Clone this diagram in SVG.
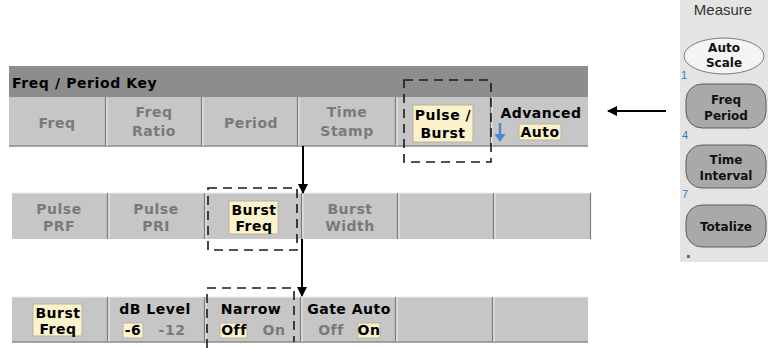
<svg xmlns="http://www.w3.org/2000/svg" width="768" height="348" viewBox="0 0 768 348">
<style>
.face{fill:#c6c6c6}
.sep{stroke:#7c7c7c;stroke-width:1.2}
.hl{stroke:#ececec;stroke-width:1}
.edge{stroke:#8a8a8a;stroke-width:1.5}
.t{font-family:"DejaVu Sans",sans-serif;font-weight:bold;font-size:14px;letter-spacing:0.5px;text-anchor:middle}
.g{fill:#7a7a7a}
.k{fill:#000}
.cream{fill:#fbf2cc;stroke:#b9b39a;stroke-width:1}
.dash{fill:none;stroke:#1a1a1a;stroke-width:1.6;stroke-dasharray:9 6}
.conn{stroke:#000;stroke-width:2;fill:none}
.pb{fill:#a9a9a9;stroke:#5e5e5e;stroke-width:1}
.pt{font-family:"DejaVu Sans",sans-serif;font-weight:bold;font-size:12px;text-anchor:middle;fill:#111}
.num{font-family:"Liberation Sans",sans-serif;font-size:11px;fill:#2c7fbf}
</style>
<defs>
<marker id="ah" markerWidth="10" markerHeight="10" refX="9" refY="5" orient="auto" markerUnits="userSpaceOnUse">
<path d="M0,0 L10,5 L0,10 Z" fill="#000"/>
</marker>
</defs>
<rect width="768" height="348" fill="#fff"/>

<g id="header">
<rect x="9" y="66" width="579" height="31" fill="#8d8d8d"/>
<text x="12" y="88" font-family="DejaVu Sans,sans-serif" font-weight="bold" font-size="14" letter-spacing="0.6" fill="#000">Freq / Period Key</text>
</g>

<g id="row1">
<rect class="face" x="9" y="97" width="579" height="49"/>
<line class="edge" x1="9" y1="146" x2="588" y2="146"/>
<line class="sep" x1="105.5" y1="97" x2="105.5" y2="146"/><line class="hl" x1="107" y1="97" x2="107" y2="146"/>
<line class="sep" x1="201.5" y1="97" x2="201.5" y2="146"/><line class="hl" x1="203" y1="97" x2="203" y2="146"/>
<line class="sep" x1="297.5" y1="97" x2="297.5" y2="146"/><line class="hl" x1="299" y1="97" x2="299" y2="146"/>
<line class="sep" x1="395.5" y1="97" x2="395.5" y2="146"/><line class="hl" x1="397" y1="97" x2="397" y2="146"/>
<line class="sep" x1="490.5" y1="97" x2="490.5" y2="146"/><line class="hl" x1="492" y1="97" x2="492" y2="146"/>
</g>
<g id="k-freq"><text class="t g" x="57" y="128">Freq</text></g>
<g id="k-freqratio"><text class="t g" x="154" y="117">Freq</text><text class="t g" x="154" y="136">Ratio</text></g>
<g id="k-period"><text class="t g" x="251" y="128">Period</text></g>
<g id="k-timestamp"><text class="t g" x="347" y="117">Time</text><text class="t g" x="347" y="136">Stamp</text></g>
<g id="k-pulseburst">
<rect class="cream" x="413" y="105" width="60" height="37"/>
<text class="t k" x="443" y="120">Pulse /</text><text class="t k" x="443" y="138">Burst</text>
</g>
<g id="k-advanced">
<text class="t k" x="541" y="118">Advanced</text>
<rect class="cream" x="519" y="124" width="42" height="16"/>
<text class="t k" x="540" y="137">Auto</text>
<line x1="500" y1="123" x2="500" y2="137" stroke="#4a86d4" stroke-width="2.5"/>
<path d="M494.5,134 L505.5,134 L500,142 Z" fill="#4a86d4"/>
</g>

<g id="row2">
<rect class="face" x="12" y="193" width="579" height="46"/>
<line class="hl" x1="12" y1="193" x2="591" y2="193"/>
<line class="sep" x1="107.5" y1="193" x2="107.5" y2="239"/><line class="hl" x1="109" y1="193" x2="109" y2="239"/>
<line class="sep" x1="204.5" y1="193" x2="204.5" y2="239"/><line class="hl" x1="206" y1="193" x2="206" y2="239"/>
<line class="sep" x1="301.5" y1="193" x2="301.5" y2="239"/><line class="hl" x1="303" y1="193" x2="303" y2="239"/>
<line class="sep" x1="397.5" y1="193" x2="397.5" y2="239"/><line class="hl" x1="399" y1="193" x2="399" y2="239"/>
<line class="sep" x1="493.5" y1="193" x2="493.5" y2="239"/><line class="hl" x1="495" y1="193" x2="495" y2="239"/>
<line class="sep" x1="590.5" y1="193" x2="590.5" y2="239"/>
</g>
<g id="k-pulseprf"><text class="t g" x="59" y="214">Pulse</text><text class="t g" x="59" y="231">PRF</text></g>
<g id="k-pulsepri"><text class="t g" x="156" y="214">Pulse</text><text class="t g" x="156" y="231">PRI</text></g>
<g id="k-burstfreq2">
<rect class="cream" x="229" y="201" width="49" height="33"/>
<text class="t k" x="254" y="215">Burst</text><text class="t k" x="254" y="231">Freq</text>
</g>
<g id="k-burstwidth"><text class="t g" x="350" y="214">Burst</text><text class="t g" x="350" y="231">Width</text></g>

<g id="row3">
<rect class="face" x="12" y="297" width="576" height="45"/>
<line class="hl" x1="12" y1="297" x2="588" y2="297"/>
<line class="edge" x1="12" y1="342" x2="588" y2="342"/>
<line class="sep" x1="107.5" y1="297" x2="107.5" y2="342"/><line class="hl" x1="109" y1="297" x2="109" y2="342"/>
<line class="sep" x1="204.5" y1="297" x2="204.5" y2="342"/><line class="hl" x1="206" y1="297" x2="206" y2="342"/>
<line class="sep" x1="300.5" y1="297" x2="300.5" y2="342"/><line class="hl" x1="302" y1="297" x2="302" y2="342"/>
<line class="sep" x1="395.5" y1="297" x2="395.5" y2="342"/><line class="hl" x1="397" y1="297" x2="397" y2="342"/>
<line class="sep" x1="492.5" y1="297" x2="492.5" y2="342"/><line class="hl" x1="494" y1="297" x2="494" y2="342"/>
</g>
<g id="k-burstfreq3">
<rect class="cream" x="33" y="304" width="49" height="32"/>
<text class="t k" x="58" y="318">Burst</text><text class="t k" x="58" y="334">Freq</text>
</g>
<g id="k-dblevel">
<text class="t k" x="155" y="314">dB Level</text>
<rect class="cream" x="123" y="323" width="20" height="15"/>
<text class="t k" x="133" y="335">-6</text>
<text class="t g" x="172" y="335">-12</text>
</g>
<g id="k-narrow">
<text class="t k" x="251" y="314">Narrow</text>
<rect class="cream" x="220" y="323" width="27" height="15"/>
<text class="t k" x="234" y="335">Off</text>
<text class="t g" x="274" y="335">On</text>
</g>
<g id="k-gateauto">
<text class="t k" x="349" y="314">Gate Auto</text>
<text class="t g" x="331" y="335">Off</text>
<rect class="cream" x="358" y="323" width="22" height="15"/>
<text class="t k" x="369" y="335">On</text>
</g>

<g id="panel">
<rect x="680" y="0" width="88" height="262" fill="#e4e4e4"/>
<text x="723" y="15" font-family="Liberation Sans,sans-serif" font-size="15" fill="#333" text-anchor="middle">Measure</text>
<g id="b-autoscale">
<ellipse cx="724" cy="56" rx="40" ry="18" fill="#f4f4f4" stroke="#7a7a7a" stroke-width="1"/>
<text class="pt" x="724" y="52">Auto</text><text class="pt" x="724" y="67">Scale</text>
<text class="num" x="681" y="79">1</text>
</g>
<g id="b-freqperiod">
<rect class="pb" x="686" y="84" width="80" height="44" rx="16"/>
<text class="pt" x="726" y="104">Freq</text><text class="pt" x="726" y="120">Period</text>
<text class="num" x="682" y="139">4</text>
</g>
<g id="b-timeinterval">
<rect class="pb" x="686" y="145" width="80" height="43" rx="16"/>
<text class="pt" x="726" y="164">Time</text><text class="pt" x="726" y="180">Interval</text>
<text class="num" x="682" y="198">7</text>
</g>
<g id="b-totalize">
<rect class="pb" x="686" y="205" width="80" height="42" rx="16"/>
<text class="pt" x="726" y="231">Totalize</text>
<rect x="687" y="255" width="3" height="3" fill="#2c7fbf"/>
</g>
</g>

<g id="highlights">
<rect class="dash" x="404" y="80" width="87" height="82"/>
<rect class="dash" x="208" y="188" width="89" height="62"/>
<path class="dash" d="M207,348 L207,288 L294,288 L294,342"/>
</g>

<g id="connectors">
<line class="conn" x1="303" y1="146" x2="303" y2="193" marker-end="url(#ah)"/>
<line class="conn" x1="302" y1="239" x2="302" y2="296" marker-end="url(#ah)"/>
<line class="conn" x1="666" y1="111" x2="608" y2="111" marker-end="url(#ah)" stroke-width="1.5"/>
</g>
</svg>
